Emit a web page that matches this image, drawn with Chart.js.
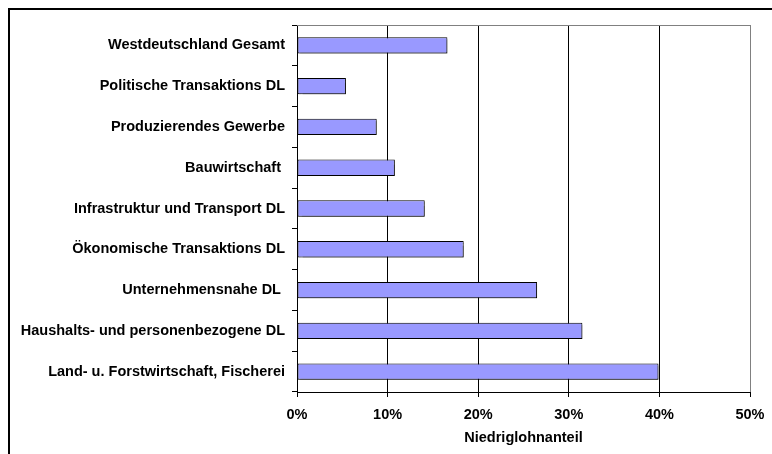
<!DOCTYPE html>
<html>
<head>
<meta charset="utf-8">
<script src="https://cdn.jsdelivr.net/npm/chart.js@4.4.1/dist/chart.umd.min.js"></script>
<style>
  html, body { margin: 0; padding: 0; background: #fff; }
  #wrap { position: relative; width: 772px; height: 454px; }
  #frame { position: absolute; left: 8px; top: 8px; right: 0; bottom: 0;
           border-left: 2px solid #000; border-top: 2px solid #000; pointer-events: none; }
</style>
</head>
<body>
<div id="wrap">
  <canvas id="grafico" width="772" height="454"></canvas>
  <div id="frame"></div>
</div>
<script>
"use strict";

// Branchen (von oben nach unten)
const branchen = [
  'Westdeutschland Gesamt',
  'Politische Transaktions DL',
  'Produzierendes Gewerbe',
  'Bauwirtschaft ',
  'Infrastruktur und Transport DL',
  'Ökonomische Transaktions DL',
  'Unternehmensnahe DL ',
  'Haushalts- und personenbezogene DL',
  'Land- u. Forstwirtschaft, Fischerei'
];

// Niedriglohnanteil in %
const anteile = [16.6, 5.4, 8.8, 10.8, 14.1, 18.4, 26.5, 31.5, 39.9];

const achseMin = 0;
const achseMax = 50;
const achseSchritt = 10;

const schrift = { family: 'Liberation Sans, Arial, sans-serif', size: 14.5, weight: 'bold' };

// Schatten unter den Balken + graue obere Kante
const extras = {
  id: 'extras',
  beforeDatasetsDraw(chart) {
    const ctx = chart.ctx;
    ctx.save();
    ctx.shadowColor = 'rgba(0,0,0,0.35)';
    ctx.shadowOffsetX = 2;
    ctx.shadowOffsetY = 2;
    ctx.shadowBlur = 1;
  },
  afterDatasetsDraw(chart) {
    chart.ctx.restore();
  },
  afterDraw(chart) {
    const a = chart.chartArea;
    const ctx = chart.ctx;
    ctx.save();
    ctx.strokeStyle = '#808080';
    ctx.lineWidth = 1;
    ctx.beginPath();
    ctx.moveTo(a.left, a.top + 0.5);
    ctx.lineTo(a.right, a.top + 0.5);
    ctx.stroke();
    ctx.restore();
  }
};

new Chart(document.getElementById('grafico').getContext('2d'), {
  type: 'bar',
  data: {
    labels: branchen,
    datasets: [{
      label: 'Niedriglohnanteil',
      data: anteile,
      backgroundColor: '#9999FF',
      borderColor: '#000000',
      borderWidth: 1,
      borderSkipped: false,
      barPercentage: 0.4,
      categoryPercentage: 1
    }]
  },
  options: {
    indexAxis: 'y',
    responsive: false,
    animation: false,
    layout: { padding: { top: 25, right: 22, left: 0, bottom: 0 } },
    plugins: {
      legend: { display: false },
      tooltip: { enabled: false }
    },
    scales: {
      x: {
        min: achseMin,
        max: achseMax,
        ticks: {
          stepSize: achseSchritt,
          color: '#000',
          font: schrift,
          padding: 9,
          callback: function (v) { return v + '%'; }
        },
        grid: {
          color: function (c) { return c.tick && c.tick.value === achseMax ? '#808080' : '#000'; },
          tickColor: '#000',
          tickLength: 5,
          lineWidth: 1
        },
        border: { color: '#000', width: 1 },
        title: {
          display: true,
          text: 'Niedriglohnanteil',
          color: '#000',
          font: schrift,
          padding: { top: 4, bottom: 7 }
        },
        afterFit: function (s) { s.height = 62; s.paddingLeft = 0; s.paddingRight = 0; }
      },
      y: {
        ticks: { color: '#000', font: schrift, padding: 7 },
        grid: {
          offset: true,
          drawOnChartArea: false,
          drawTicks: true,
          tickLength: 5,
          tickColor: '#000'
        },
        border: { color: '#000', width: 1 },
        afterFit: function (s) { s.width = 297; }
      }
    }
  },
  plugins: [extras]
});
</script>
</body>
</html>
